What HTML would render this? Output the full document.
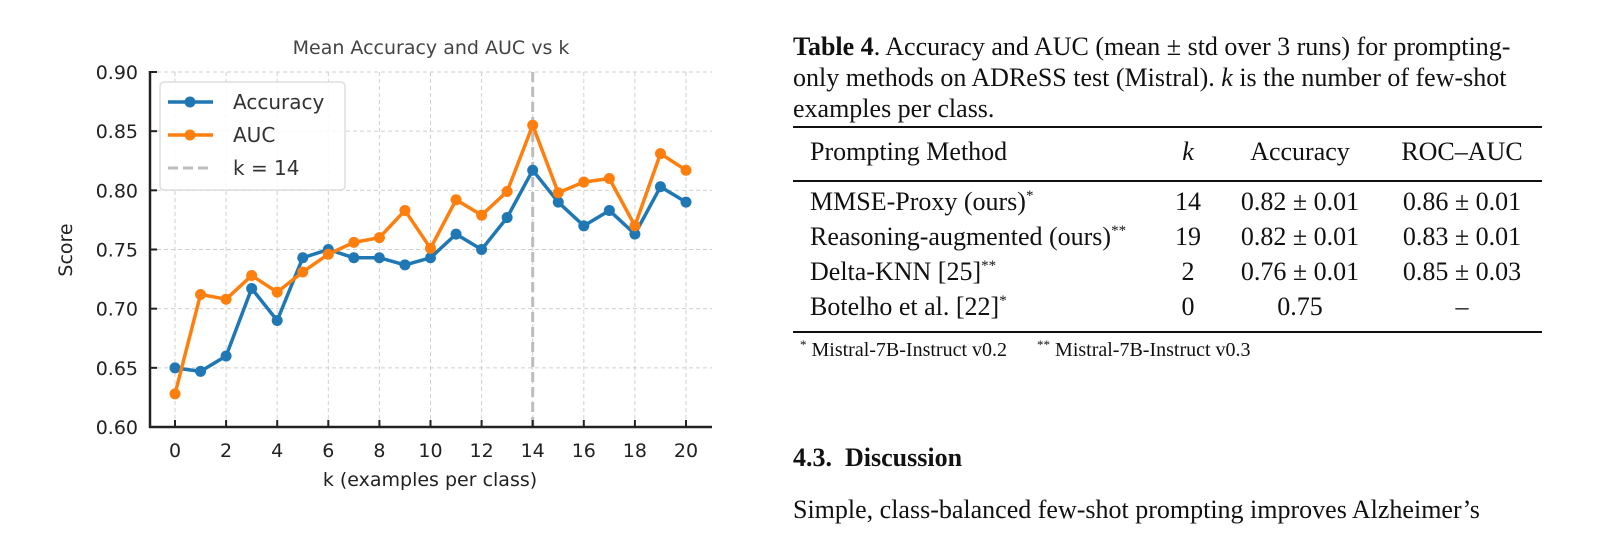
<!DOCTYPE html>
<html><head><meta charset="utf-8"><style>
body{margin:0;width:1599px;height:533px;background:#fff;overflow:hidden;position:relative}
.t{position:absolute;font-family:"Liberation Serif",serif;color:#111;font-size:26px;line-height:30px;white-space:nowrap}
.c{text-align:center}
.rule{position:absolute;left:793px;width:749px;background:#111}
sup{font-size:15px;vertical-align:10px;line-height:0}
</style></head><body>
<svg id="chart" width="760" height="533" style="position:absolute;left:0;top:0" font-family="DejaVu Sans, sans-serif"></svg>

<div class="t" style="left:793px;top:31px;line-height:31px"><b>Table 4</b>. Accuracy and AUC (mean ± std over 3 runs) for prompting-<br>only methods on ADReSS test (Mistral). <i>k</i> is the number of few-shot<br>examples per class.</div>
<div class="rule" style="top:126px;height:2px"></div>
<div class="rule" style="top:180px;height:1.5px"></div>
<div class="rule" style="top:331px;height:2px"></div>
<div>
<div class="t" style="left:810px;top:137px">Prompting Method</div>
<div class="t c" style="left:1168px;top:137px;width:40px"><i>k</i></div>
<div class="t c" style="left:1220px;top:137px;width:160px">Accuracy</div>
<div class="t c" style="left:1382px;top:137px;width:160px">ROC–AUC</div>

<div class="t" style="left:810px;top:187px">MMSE-Proxy (ours)<sup>*</sup></div>
<div class="t c" style="left:1168px;top:187px;width:40px">14</div>
<div class="t c" style="left:1220px;top:187px;width:160px">0.82 ± 0.01</div>
<div class="t c" style="left:1382px;top:187px;width:160px">0.86 ± 0.01</div>

<div class="t" style="left:810px;top:222px">Reasoning-augmented (ours)<sup>**</sup></div>
<div class="t c" style="left:1168px;top:222px;width:40px">19</div>
<div class="t c" style="left:1220px;top:222px;width:160px">0.82 ± 0.01</div>
<div class="t c" style="left:1382px;top:222px;width:160px">0.83 ± 0.01</div>

<div class="t" style="left:810px;top:257px">Delta-KNN [25]<sup>**</sup></div>
<div class="t c" style="left:1168px;top:257px;width:40px">2</div>
<div class="t c" style="left:1220px;top:257px;width:160px">0.76 ± 0.01</div>
<div class="t c" style="left:1382px;top:257px;width:160px">0.85 ± 0.03</div>

<div class="t" style="left:810px;top:292px">Botelho et al. [22]<sup>*</sup></div>
<div class="t c" style="left:1168px;top:292px;width:40px">0</div>
<div class="t c" style="left:1220px;top:292px;width:160px">0.75</div>
<div class="t c" style="left:1382px;top:292px;width:160px">–</div>
</div>
<div class="t" style="left:800px;top:338px;font-size:20px;line-height:24px"><sup style="font-size:13px;vertical-align:7px">*</sup> Mistral-7B-Instruct v0.2 &nbsp;&nbsp;&nbsp;&nbsp; <sup style="font-size:13px;vertical-align:7px">**</sup> Mistral-7B-Instruct v0.3</div>
<div class="t" style="left:793px;top:443px;font-weight:bold">4.3.&nbsp; Discussion</div>
<div class="t" style="left:793px;top:495px">Simple, class-balanced few-shot prompting improves Alzheimer’s</div>

<script>
const kValues=[0,1,2,3,4,5,6,7,8,9,10,11,12,13,14,15,16,17,18,19,20];
const accuracy=[0.650,0.647,0.660,0.717,0.690,0.743,0.750,0.743,0.743,0.737,0.743,0.763,0.750,0.777,0.817,0.790,0.770,0.783,0.763,0.803,0.790];
const auc=[0.628,0.712,0.708,0.728,0.714,0.731,0.746,0.756,0.760,0.783,0.751,0.792,0.779,0.799,0.855,0.798,0.807,0.810,0.770,0.831,0.817];
const yTicks=[0.60,0.65,0.70,0.75,0.80,0.85,0.90];
const xTicks=[0,2,4,6,8,10,12,14,16,18,20];
const markerK=14;

const NS='http://www.w3.org/2000/svg';
const svg=document.getElementById('chart');
const L=150,R=712,T=72,B=427;
const x=v=>175+(v-0)*(686-175)/20;
const y=v=>B-(v-0.60)*(B-T)/0.30;
function mk(tag,attrs,parent){const e=document.createElementNS(NS,tag);for(const k in attrs)e.setAttribute(k,attrs[k]);(parent||svg).appendChild(e);return e;}

const grid=mk('g',{});


yTicks.forEach(t=>mk('line',{x1:L,x2:R,y1:y(t),y2:y(t),stroke:'#cfcfcf','stroke-width':1,'stroke-dasharray':'4,3'},grid));
xTicks.forEach(t=>mk('line',{x1:x(t),x2:x(t),y1:T,y2:B,stroke:'#cfcfcf','stroke-width':1,'stroke-dasharray':'4,3'},grid));

const vl=mk('line',{x1:x(markerK),x2:x(markerK),y1:T,y2:B,stroke:'#bdbdbd','stroke-width':3,'stroke-dasharray':'10,5'});



function series(vals,color,name){
  const g=mk('g',{});
  
  
  mk('polyline',{points:vals.map((v,i)=>x(kValues[i])+','+y(v)).join(' '),fill:'none',stroke:color,'stroke-width':3.5,'stroke-linejoin':'round'},g);
  vals.forEach((v,i)=>{const c=mk('circle',{cx:x(kValues[i]),cy:y(v),r:5.5,fill:color},g);
    
    });
}
series(accuracy,'#1f77b4','accuracy-series');
series(auc,'#ff7f0e','auc-series');

const ax=mk('g',{});


mk('line',{x1:L,x2:L,y1:T-1,y2:B+1,stroke:'#222','stroke-width':2.5},ax);
mk('line',{x1:L-1,x2:R,y1:B,y2:B,stroke:'#222','stroke-width':2.5},ax);
yTicks.forEach(t=>{mk('line',{x1:L,x2:L+7,y1:y(t),y2:y(t),stroke:'#222','stroke-width':2},ax);
  const tx=mk('text',{x:138,y:y(t)+7,'text-anchor':'end','font-size':19,fill:'#222'},ax);tx.textContent=t.toFixed(2);});
xTicks.forEach(t=>{mk('line',{x1:x(t),x2:x(t),y1:B,y2:B-7,stroke:'#222','stroke-width':2},ax);
  const tx=mk('text',{x:x(t),y:457,'text-anchor':'middle','font-size':19,fill:'#222'},ax);tx.textContent=t;});
const xl=mk('text',{x:430,y:486,'text-anchor':'middle','font-size':19,fill:'#222'});xl.textContent='k (examples per class)';


const yl=mk('text',{x:72,y:250,'text-anchor':'middle','font-size':19,fill:'#222',transform:'rotate(-90 72 250)'});yl.textContent='Score';


const tt=mk('text',{x:431,y:54,'text-anchor':'middle','font-size':19,fill:'#444'});tt.textContent='Mean Accuracy and AUC vs k';



const lg=mk('g',{});


mk('rect',{x:160,y:82,width:185,height:108,rx:4,fill:'#fff','fill-opacity':0.85,stroke:'#ddd','stroke-width':1.5},lg);
[['Accuracy','#1f77b4',0],['AUC','#ff7f0e',1]].forEach(([n,c,i])=>{
  const yy=102+i*33;
  mk('line',{x1:168,x2:213,y1:yy,y2:yy,stroke:c,'stroke-width':3.5},lg);
  mk('circle',{cx:190,cy:yy,r:5.5,fill:c},lg);
  const t=mk('text',{x:233,y:yy+7,'font-size':20,fill:'#333'},lg);t.textContent=n;});
mk('line',{x1:168,x2:213,y1:168,y2:168,stroke:'#bdbdbd','stroke-width':3,'stroke-dasharray':'10,5'},lg);
const t3=mk('text',{x:233,y:175,'font-size':20,fill:'#333'},lg);t3.textContent='k = 14';
</script>
</body></html>
